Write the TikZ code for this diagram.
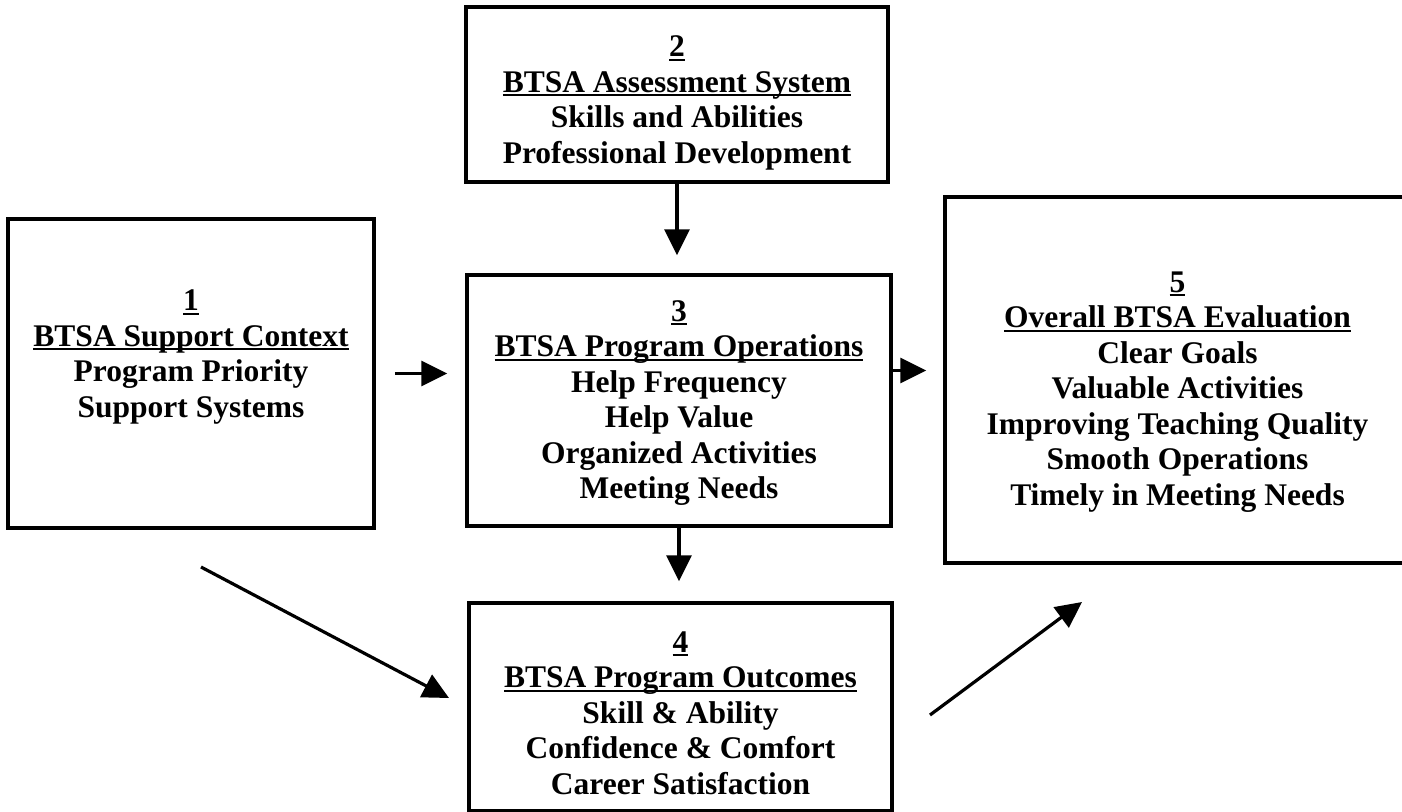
\documentclass[tikz,border=0pt]{standalone}
\usepackage{fontspec}
\setmainfont{Liberation Serif}
\usetikzlibrary{arrows.meta}
\newcommand{\ulin}[1]{\begingroup\setbox0\hbox{#1}\leavevmode\rlap{\rule[-4pt]{\wd0}{2pt}}\box0\endgroup}
\tikzset{
  boxnode/.style={draw, line width=3.5pt, rectangle, inner sep=0pt, anchor=center},
  txtnode/.style={align=center, inner sep=0pt, font=\fontsize{31.5}{35.5}\selectfont\bfseries},
  conn/.style={line width=3.2pt, -{Triangle[length=26pt,width=25pt]}},
}
\begin{document}
\begin{tikzpicture}[x=1pt,y=-1pt]
\useasboundingbox (0,0) rectangle (1402,811);
\fill[white] (0,0) rectangle (1402,811);
% boxes
\node[boxnode, minimum width=366pt, minimum height=309pt] (b1) at (191,373.5) {};
\node[boxnode, minimum width=422pt, minimum height=175pt] (b2) at (677,94.5) {};
\node[boxnode, minimum width=424pt, minimum height=251pt] (b3) at (679,400.5) {};
\node[boxnode, minimum width=423pt, minimum height=208pt] (b4) at (680.5,707) {};
\node[boxnode, minimum width=465pt, minimum height=366pt] (b5) at (1177.5,380) {};
% texts
\node[txtnode] (t1) at (191,357) {\ulin{1}\\\ulin{BTSA Support Context}\\Program Priority\\Support Systems};
\node[txtnode] (t2) at (677,103) {\ulin{2}\\\ulin{BTSA Assessment System}\\Skills and Abilities\\Professional Development};
\node[txtnode] (t3) at (679,403) {\ulin{3}\\\ulin{BTSA Program Operations}\\Help Frequency\\Help Value\\Organized Activities\\Meeting Needs};
\node[txtnode] (t4) at (680.5,713) {\ulin{4}\\\ulin{BTSA Program Outcomes}\\Skill \& Ability\\Confidence \& Comfort\\Career Satisfaction};
\node[txtnode] (t5) at (1177.5,392) {\ulin{5}\\\ulin{Overall BTSA Evaluation}\\Clear Goals\\Valuable Activities\\Improving Teaching Quality\\Smooth Operations\\Timely in Meeting Needs};
% connectors
\draw[conn, shorten <=19pt, shorten >=18pt] (b1.east) -- (b1.east -| b3.west);
\draw[conn, shorten >=18pt] (b2.south) -- (b2.south |- b3.north);
\draw[conn, shorten >=20pt] (b3.south) -- (b3.south |- b4.north);
\draw[conn, shorten >=17pt] ([yshift=30pt]b3.east) -- ([yshift=30pt]b3.east -| b5.west);
\coordinate (a14s) at (201,567);
\coordinate (a14e) at (449,698);
\coordinate (a45s) at (930,715);
\coordinate (a45e) at (1082,602);
\draw[conn] (a14s) -- (a14e);
\draw[conn] (a45s) -- (a45e);
\end{tikzpicture}
\end{document}
